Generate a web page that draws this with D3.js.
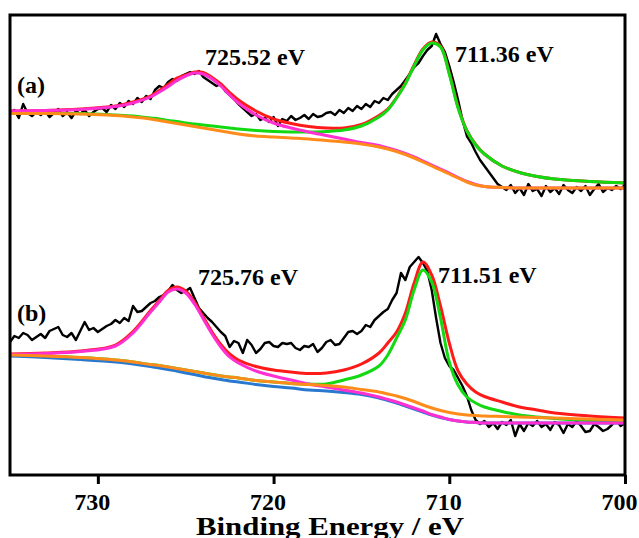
<!DOCTYPE html>
<html><head><meta charset="utf-8">
<script src="https://cdn.jsdelivr.net/npm/d3@7/dist/d3.min.js"></script>
<style>body{margin:0;background:#fff}svg{display:block}</style>
</head><body><svg id="c" width="639" height="538"></svg>
<script>
// ---- data ----
const xTicks = [730, 720, 710, 700];
const xTickLabels = ["730", "720", "710", "700"];
const xTitle = "Binding Energy / eV";
const rawStart = 735, rawStep = 0.25;   // raw spectra sampled from 735 eV downwards
const rawA = [361,365,357,371,362,359,363,360,364,358,362,366,359,363,357,364,361,365,359,363,366,
  367,363,370,366,372,368,374,371,377,373,379,376,
  385,389,387,393,396,394,399,401,
  403,401,404,398,395,392,
  389,391,384,380,376,371,
  367,363,359,361,355,357,
  353,358,349,356,354,359,355,357,
  360,356,361,358,359,362,
  363,360,365,362,367,364,369,366,
  371,368,374,372,377,375,
  381,385,389,395,
  401,408,412,419,
  425,429,441,
  431,423,409,
  393,375,355,339,
  332,323,315,309,
  303,297,291,288,
  285,290,282,287,280,291,284,286,279,289,283,287,281,290,285,282,288,284,289,280,286,291,283,287,285,289,286,290];
const rawB = [133,139,137,142,140,135,138,141,137,144,
  146,148,140,138,142,135,144,153,145,147,
  143,146,149,151,155,152,157,154,169,163,
  164,168,172,174,178,180,184,190,185,182,
  184,187,177,167,162,157,153,148,143,139,
  128,134,132,122,135,130,122,126,132,133,
  129,128,132,131,132,127,125,129,128,131,
  123,127,133,135,130,131,137,143,144,141,
  144,150,148,155,159,163,166,175,182,202,
  195,208,213,218,212,204,185,157,132,117,
  109,105,97,89,79,65,55,51,54,48,
  52,46,53,50,55,39,51,44,52,49,
  54,48,51,45,53,50,42,51,48,54,
  49,43,44,51,48,44,46,50,55,49,52];
const fitE = [735,733,731,729,728,727,726.5,726,725.5,725,724.5,724,723.5,723,722.5,722,721,720,719,718,717,716,715,714,713.5,713,712.5,712,711.5,711,710.5,710,709.5,709,708.5,708,707,706,705,704,702,700];
const fitA_red = [364,364.5,366,369,373,379,384.5,390.5,397,400,403,402.5,397.5,391,382.5,375,364,356,351.5,348.5,347,347,350.5,359.5,366,377.5,392,410,426,433,429,402,368,344.5,330.5,321,309,302.5,298.5,296,293.5,292];
const fitA_green = [361.5,361.5,361.5,360,359,357,356,354.5,353.5,352,351,350,349,348,347,346,344.5,343.5,343,343,343.5,345,349,358,365,377,391,409,425,432,428,401,367,344,330,321,309,302.5,298.5,296,293.5,292];
const fitA_pink = [364,364.5,365.5,368.5,372,378,383,388.5,394.5,399,402,401,396,389,380,372,360,352,347,343,339.5,336,332.5,329.5,327,324.5,321.5,318,314,310,306,302,297.5,293.5,290.5,288.5,287.5,287,287,287,287,287];
const fitA_orange = [361.5,361.5,361,359.5,358,356,354.5,353,351.5,350,348.5,347,345.5,344,342.5,341,339,338,337,336,334.5,333,331,328,326,323.5,320.5,317,313,309,305,301,297,293,290,288.5,287.5,287,287,287,287,287];
const fitB_red = [121,122,124,130,143.5,164.5,174.5,184.5,188,184,173,158,143,130.5,121,115,108.5,105,103,101.5,102,105,111,122,132,143,162,192,213,200,169,132,104,91,83,78.5,73,68,65,62,59,57];
const fitB_green = [120,119,117.5,115,113,110.5,109.5,108,106.5,105,103.5,102,100.5,99,98,97,94.5,93,91.5,91,91,95,100,109,120,137,155,185,205,193,157,113,90,78,72,68,63.5,60,58,56.5,54.5,53];
const fitB_blue = [119,117.5,115.5,113,111,108.5,107,105.5,104,102,100.5,98.5,97,95.5,94,93,90.5,88.5,87,85,84,82.5,80.5,77,74.5,72,69,66,63,60,57.5,55.5,54,53,52.5,52,52,52,52,52,52,52];
const fitB_pink = [120.5,121.5,123.5,129,142,163,173,183,186,182,171,156,141,128,118,112,104,99,95,91,88,85,82,78,75.5,73,70,67,64,60.5,58,55.5,54,53,52.5,52,52,52,52,52,52,52];
const fitB_orange = [120,119,117.5,115,113,110.5,109.5,108,106.5,105,103.5,102,100.5,99,98,97,94.5,93,91.5,90.5,89.5,88,85.5,83,81,79,76.5,73.5,70,67,64.5,62.5,61,60,59.5,59,58.5,58,57.5,57,56,55];
const peakText = ["725.52 eV", "711.36 eV", "725.76 eV", "711.51 eV"];
const panelText = ["(a)", "(b)"];

// ---- layout ----
const L = 10, R = 625, T = 15, B = 475;
const svg = d3.select("#c");
const x = d3.scaleLinear().domain([735, 700]).range([L, R]);
const y = d3.scaleLinear().domain([0, 460]).range([B, T]);
const FONT = "'Liberation Serif','Times New Roman',serif";

svg.append("defs").append("clipPath").attr("id", "clip")
  .append("rect").attr("x", L).attr("y", T).attr("width", R - L).attr("height", B - T);
const plot = svg.append("g").attr("clip-path", "url(#clip)");

const rawLine = d3.line().x((d, i) => x(rawStart - rawStep * i)).y(d => y(d));
const fitLine = d3.line().x((d, i) => x(fitE[i])).y(d => y(d)).curve(d3.curveCatmullRom.alpha(0.5));

[rawA, rawB].forEach(s => plot.append("path").datum(s).attr("d", rawLine)
  .attr("fill", "none").attr("stroke", "#000").attr("stroke-width", 2.4).attr("stroke-linejoin", "round"));

const fits = [
  [fitA_red, "#ff1a1a"], [fitA_green, "#12d912"], [fitA_pink, "#ff2fd2"], [fitA_orange, "#ff8c1a"],
  [fitB_red, "#ff1a1a"], [fitB_green, "#12d912"], [fitB_blue, "#2878d0"], [fitB_pink, "#ff2fd2"], [fitB_orange, "#ff8c1a"]
];
fits.forEach(([s, c]) => plot.append("path").datum(s).attr("d", fitLine)
  .attr("fill", "none").attr("stroke", c).attr("stroke-width", 3).attr("stroke-linecap", "round"));

// frame
svg.append("rect").attr("x", L).attr("y", T).attr("width", R - L).attr("height", B - T)
  .attr("fill", "none").attr("stroke", "#000").attr("stroke-width", 3);

// x axis
const ax = svg.append("g").attr("transform", `translate(0,${B})`)
  .call(d3.axisBottom(x).tickValues(xTicks).tickFormat((d, i) => xTickLabels[i]).tickSize(9).tickSizeOuter(0));
ax.select(".domain").remove();
ax.selectAll(".tick line").attr("stroke", "#000").attr("stroke-width", 3);
ax.selectAll(".tick text").attr("y", 35).attr("dy", 0).attr("dx", -6)
  .attr("fill", "#000").style("font-family", FONT).style("font-weight", "bold").style("font-size", "24px");

svg.append("text").attr("x", 330).attr("y", 535).attr("text-anchor", "middle")
  .attr("textLength", 268).attr("lengthAdjust", "spacingAndGlyphs")
  .style("font-family", FONT).style("font-weight", "bold").style("font-size", "25px").text(xTitle);

// annotations (anchored in data coordinates)
const ann = [
  [peakText[0], 723.9, 410], [peakText[1], 709.67, 413],
  [peakText[2], 724.3, 190], [peakText[3], 710.64, 192],
  [panelText[0], 734.6, 382], [panelText[1], 734.6, 154]
];
ann.forEach(([t, e, v]) => svg.append("text").attr("x", x(e)).attr("y", y(v))
  .style("font-family", FONT).style("font-weight", "bold").style("font-size", "24px").attr("fill", "#000").text(t));
</script></body></html>
